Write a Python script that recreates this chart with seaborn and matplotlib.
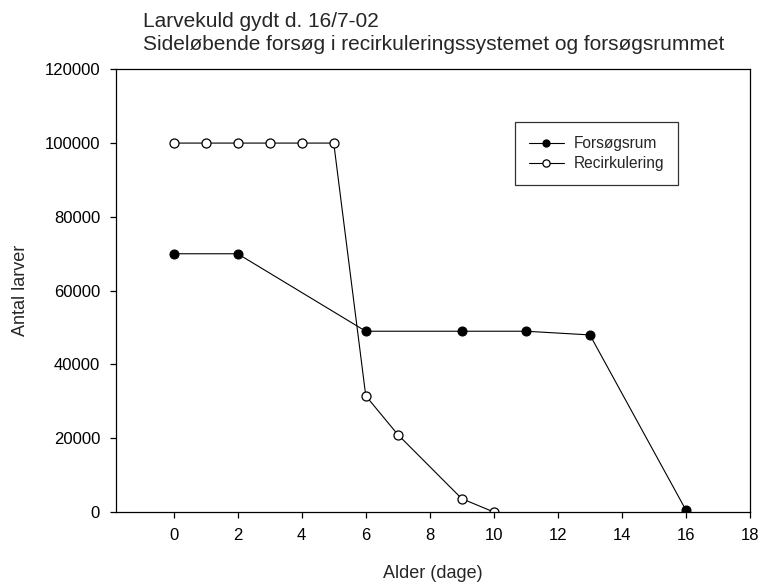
import matplotlib
matplotlib.use("Agg")
import matplotlib.pyplot as plt
import seaborn as sns
import pandas as pd

forsog_x = [0, 2, 6, 9, 11, 13, 16]
forsog_y = [70000, 70000, 49000, 49000, 49000, 48000, 500]
recirk_x = [0, 1, 2, 3, 4, 5, 6, 7, 9, 10]
recirk_y = [100000, 100000, 100000, 100000, 100000, 100000, 31500, 21000, 3600, 0]
xticks = [0, 2, 4, 6, 8, 10, 12, 14, 16, 18]
yticks = [0, 20000, 40000, 60000, 80000, 100000, 120000]

sns.set_theme(style="ticks")
plt.rcParams['font.family'] = ['Liberation Sans', 'DejaVu Sans']

df_f = pd.DataFrame({"x": forsog_x, "y": forsog_y})
df_r = pd.DataFrame({"x": recirk_x, "y": recirk_y})

fig = plt.figure(figsize=(7.6, 5.85), dpi=100)
ax = fig.add_axes([116 / 760, 1 - 512 / 585, (750 - 116) / 760, (512 - 69.3) / 585])

sns.lineplot(data=df_f, x="x", y="y", ax=ax, color="black", lw=0.8,
             marker="o", markersize=6.5, markerfacecolor="black",
             markeredgecolor="black", label="Forsøgsrum")
sns.lineplot(data=df_r, x="x", y="y", ax=ax, color="black", lw=0.8,
             marker="o", markersize=6.5, markerfacecolor="white",
             markeredgecolor="black", markeredgewidth=0.9, label="Recirkulering")

ax.set_xlim(-1.8, 18)
ax.set_ylim(0, 120000)
ax.set_xticks(xticks)
ax.set_yticks(yticks)
ax.tick_params(direction="out", length=4.5, width=0.9, colors="black", labelsize=12, pad=7)
for s in ax.spines.values():
    s.set_color("black")
    s.set_linewidth(0.9)
ax.set_xlabel("Alder (dage)", fontsize=13, labelpad=16)
ax.set_ylabel("Antal larver", fontsize=13, labelpad=11)

leg = ax.legend(loc="upper left", bbox_to_anchor=(0.629, 0.881), borderaxespad=0,
                fontsize=11.2, frameon=True, fancybox=False, edgecolor="black",
                handlelength=2.25, handletextpad=0.64, borderpad=0.9,
                labelspacing=0.33, markerscale=0.8)
leg.get_frame().set_linewidth(0.9)

fig.text(143 / 760, 1 - 27 / 585, "Larvekuld gydt d. 16/7-02", fontsize=15,
         va="baseline", ha="left")
fig.text(143 / 760, 1 - 50 / 585, "Sideløbende forsøg i recirkuleringssystemet og forsøgsrummet",
         fontsize=15, va="baseline", ha="left")

fig.savefig("out.png", dpi=100)
